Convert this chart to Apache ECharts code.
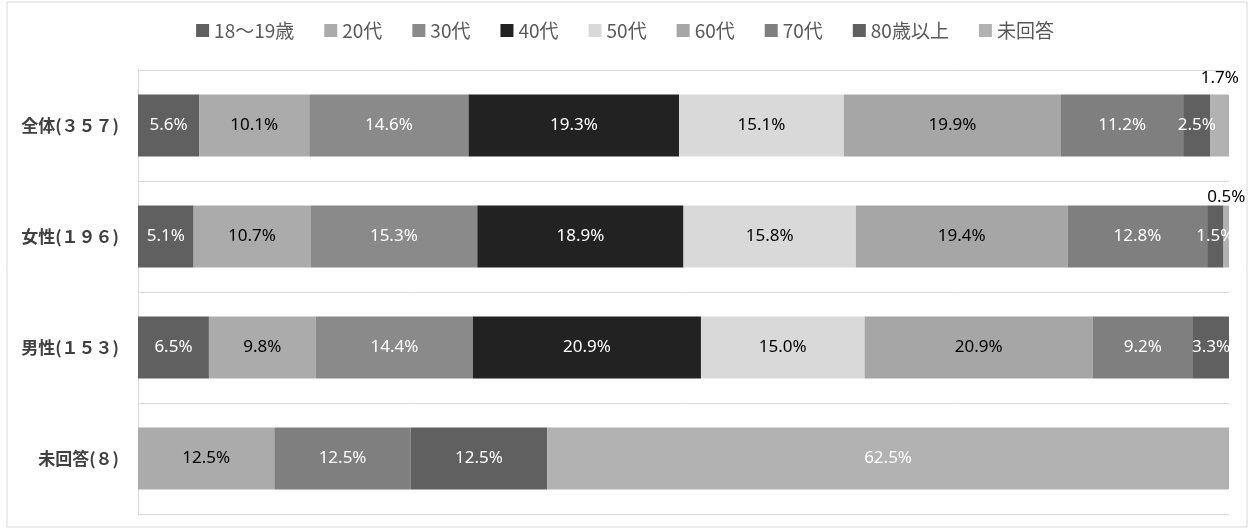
<!DOCTYPE html>
<html>
<head>
<meta charset="utf-8">
<script src="https://cdn.jsdelivr.net/npm/echarts@6/dist/echarts.min.js"></script>
<style>
  html, body { margin: 0; padding: 0; background: #fff; }
  #chart { width: 1250px; height: 530px; }
</style>
</head>
<body>
<div id="chart"></div>
<script>
// カテゴリ（上から順）
const categories = ['全体(３５７)', '女性(１９６)', '男性(１５３)', '未回答(８)']

// 年代ごとの構成比（%）
const ageGroups = ['18～19歳', '20代', '30代', '40代', '50代', '60代', '70代', '80歳以上', '未回答']
const age18 = [5.6, 5.1, 6.5, 0]
const age20 = [10.1, 10.7, 9.8, 12.5]
const age30 = [14.6, 15.3, 14.4, 0]
const age40 = [19.3, 18.9, 20.9, 0]
const age50 = [15.1, 15.8, 15.0, 0]
const age60 = [19.9, 19.4, 20.9, 0]
const age70 = [11.2, 12.8, 9.2, 12.5]
const age80 = [2.5, 1.5, 3.3, 12.5]
const noAnswer = [1.7, 0.5, 0, 62.5]

const seriesValues = [age18, age20, age30, age40, age50, age60, age70, age80, noAnswer]
const colors = ['#606060', '#ababab', '#8a8a8a', '#222222', '#d9d9d9', '#a6a6a6', '#7f7f7f', '#606060', '#b2b2b2']
const labelColors = ['#fff', '#000', '#fff', '#fff', '#000', '#000', '#fff', '#fff', '#fff']

// 値が小さくバーに収まらないラベルはバーの上に出す
const outsideLabel = {
  8: { 0: { position: 'top', distance: 8, offset: [-4, 0], color: '#000' },
       1: { position: 'top', distance: 0, offset: [-4, 3], color: '#000' } }
}

const series = seriesValues.map((values, i) => {
  return {
    name: ageGroups[i],
    type: 'bar',
    stack: 'total',
    barWidth: 62,
    itemStyle: { color: colors[i] },
    label: {
      show: true,
      position: 'inside',
      color: labelColors[i],
      fontFamily: 'Noto Sans',
      fontSize: 17,
      formatter: p => p.value > 0 ? p.value.toFixed(1) + '%' : ''
    },
    labelLayout: { hideOverlap: false },
    data: values.map((v, j) => {
      let o = outsideLabel[i] && outsideLabel[i][j]
      if (o) return { value: v, label: o }
      return v
    })
  }
})

const chart = echarts.init(document.getElementById('chart'), null, { renderer: 'canvas' })
chart.setOption({
  animation: false,
  backgroundColor: '#fff',
  graphic: [{
    type: 'rect',
    shape: { x: 7, y: 2, width: 1240, height: 525 },
    style: { fill: 'none', stroke: '#d9d9d9', lineWidth: 1 },
    silent: true
  }],
  legend: {
    top: 16,
    left: 'center',
    icon: 'rect',
    itemWidth: 13,
    itemHeight: 13,
    itemGap: 30,
    textStyle: { fontFamily: 'Noto Sans CJK JP', fontSize: 19, color: '#595959' },
    data: ageGroups
  },
  grid: { left: 138, right: 21, top: 70, bottom: 16, containLabel: false },
  xAxis: {
    type: 'value',
    min: 0,
    max: 100,
    show: false
  },
  yAxis: {
    type: 'category',
    inverse: true,
    data: categories,
    axisLine: { show: true, lineStyle: { color: '#d9d9d9' } },
    axisTick: { show: false },
    splitLine: { show: true, lineStyle: { color: '#d9d9d9' } },
    axisLabel: {
      margin: 19,
      fontFamily: 'Noto Sans CJK JP',
      fontSize: 17,
      fontWeight: 'bold',
      color: '#404040'
    }
  },
  series: series
})
</script>
</body>
</html>
